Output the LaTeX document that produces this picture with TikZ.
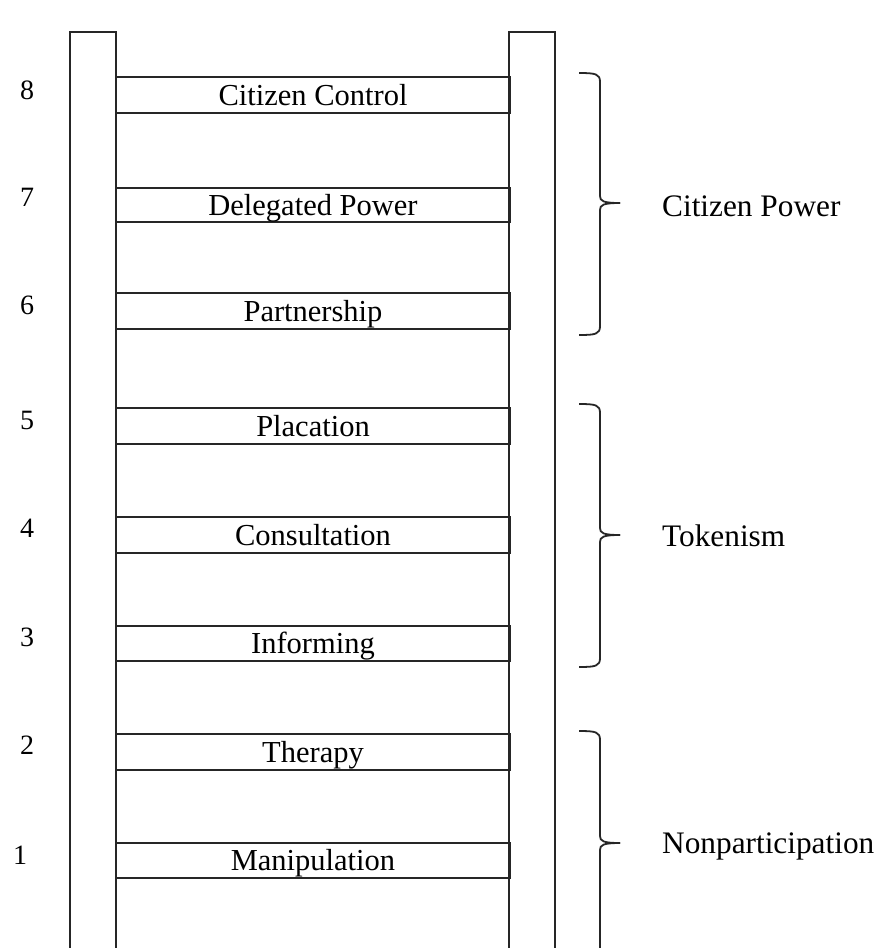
\documentclass[tikz,border=0pt]{standalone}
\usepackage{fontspec}
\setmainfont{Liberation Serif}
\begin{document}
\begin{tikzpicture}[x=1pt,y=-1pt,
  rail/.style={draw=black!85,line width=2pt},
  rungbox/.style={draw=black!85,line width=2pt,minimum width=394pt,inner sep=0pt,
    text height=20.5pt,text depth=0pt,font=\fontsize{30.5}{36}\selectfont},
  numlabel/.style={inner sep=0pt,anchor=base,font=\fontsize{28}{32}\selectfont},
  grouplabel/.style={inner sep=0pt,anchor=base west,font=\fontsize{31.3}{36}\selectfont},
  bracepath/.style={draw=black!85,line width=1.8pt}]
\clip (0,0) rectangle (877,948);
% rails
\draw[rail] (70,32) rectangle (116,1000);
\draw[rail] (509,32) rectangle (555,1000);
% rungs
\node[rungbox,minimum height=36pt] (r8) at (313,95) {Citizen Control};
\node[rungbox,minimum height=34pt] (r7) at (313,205) {Delegated Power};
\node[rungbox,minimum height=36pt] (r6) at (313,311) {Partnership};
\node[rungbox,minimum height=36pt] (r5) at (313,426) {Placation};
\node[rungbox,minimum height=36pt] (r4) at (313,535) {Consultation};
\node[rungbox,minimum height=35pt] (r3) at (313,643.5) {Informing};
\node[rungbox,minimum height=36pt] (r2) at (313,752) {Therapy};
\node[rungbox,minimum height=35pt] (r1) at (313,860.5) {Manipulation};
% numbers
\node[numlabel] (n8) at (27,99.5) {8};
\node[numlabel] (n7) at (27,206) {7};
\node[numlabel] (n6) at (27,314.5) {6};
\node[numlabel] (n5) at (27,429.5) {5};
\node[numlabel] (n4) at (27,537.5) {4};
\node[numlabel] (n3) at (27,646.5) {3};
\node[numlabel] (n2) at (27,754.5) {2};
\node[numlabel] (n1) at (20,864.5) {1};
% braces
\draw[bracepath] (579,73) .. controls (596,73) and (600,74) .. (600,82)
  -- (600,196) .. controls (600,201) and (603,203) .. (620,203);
\draw[bracepath] (579,335) .. controls (596,335) and (600,334) .. (600,326)
  -- (600,210) .. controls (600,205) and (603,203) .. (620,203);
\draw[bracepath] (579,404) .. controls (596,404) and (600,405) .. (600,413)
  -- (600,528) .. controls (600,533) and (603,535) .. (620,535);
\draw[bracepath] (579,667) .. controls (596,667) and (600,666) .. (600,658)
  -- (600,542) .. controls (600,537) and (603,535) .. (620,535);
\draw[bracepath] (579,731) .. controls (596,731) and (600,732) .. (600,740)
  -- (600,836) .. controls (600,841) and (603,843) .. (620,843);
\draw[bracepath] (600,1000) -- (600,850) .. controls (600,845) and (603,843) .. (620,843);
% group labels
\node[grouplabel] (g3) at (662,216) {Citizen Power};
\node[grouplabel] (g2) at (662,546) {Tokenism};
\node[grouplabel] (g1) at (662,853) {Nonparticipation};
\end{tikzpicture}
\end{document}
